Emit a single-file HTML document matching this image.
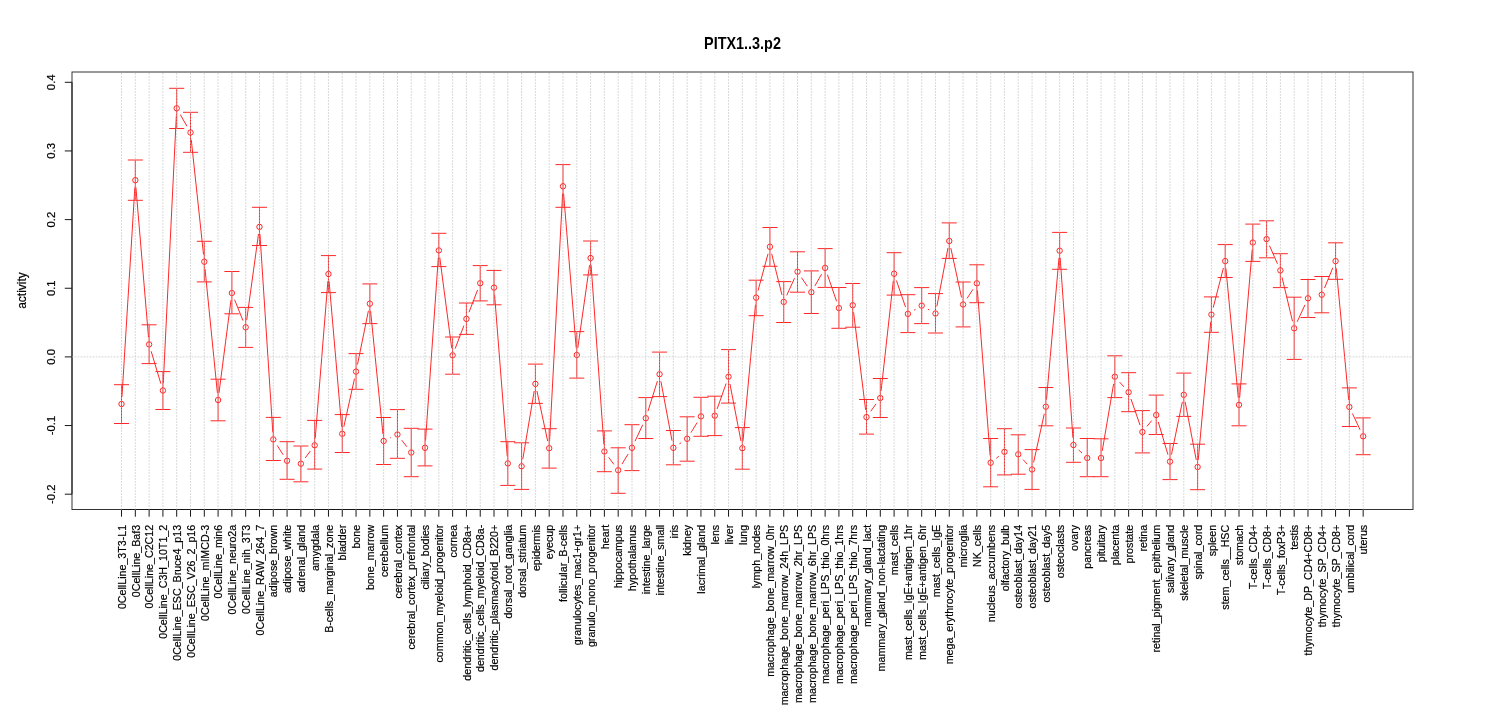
<!DOCTYPE html>
<html><head><meta charset="utf-8"><style>
html,body{margin:0;padding:0;background:#fff;width:1485px;height:720px;overflow:hidden}
svg{display:block;will-change:transform}
text{font-family:"Liberation Sans",sans-serif;fill:#000;stroke:#000;stroke-width:0.2px}
</style></head><body>
<svg width="1485" height="720" viewBox="0 0 1485 720">
<rect x="0" y="0" width="1485" height="720" fill="#fff"/>
<text transform="translate(742.5,48.9) scale(1,1.09)" text-anchor="middle" font-weight="bold" font-size="14.4" style="stroke-width:0">PITX1..3.p2</text>
<path d="M121.96 396.81L134.87 187.39M135.92 187.37L148.51 337.23M151.18 351.30L160.84 383.60M163.26 383.31L176.35 115.49M180.27 114.55L186.93 126.25M191.26 139.66L203.53 254.54M205.01 268.86L217.38 392.84M219.01 392.86L230.97 300.14M234.57 299.68L243.00 320.62M246.66 320.17L258.50 234.03M259.95 234.08L272.81 432.22M277.18 445.45L283.17 454.75M305.19 457.94L310.34 451.06M315.24 438.12L327.88 281.18M329.08 281.17L341.64 426.63M343.82 426.77L354.49 378.63M357.49 364.54L368.41 310.76M370.57 310.86L382.92 433.84M390.16 437.93L390.93 437.57M401.82 440.21L406.86 446.79M418.05 450.18L418.22 450.12M425.53 440.62L438.33 257.58M439.77 257.54L451.69 348.16M455.18 348.57L463.87 325.63M469.02 312.18L477.62 289.92M487.08 285.39L487.15 285.41M494.58 294.78L507.24 456.22M522.79 459.20L534.21 391.00M536.91 390.94L547.69 441.16M549.57 441.01L562.61 193.49M563.58 193.48L576.20 347.82M577.80 347.87L589.57 265.13M591.10 265.18L603.87 444.32M608.65 457.29L613.90 464.41M621.95 464.07L628.20 453.93M635.01 441.27L642.73 424.73M647.92 411.33L657.41 381.07M660.89 381.28L672.03 440.72M679.39 443.87L681.13 442.73M690.93 432.67L697.18 422.53M717.15 408.91L726.14 383.49M729.91 383.77L740.98 441.13M743.00 441.03L755.48 304.77M758.02 290.65L768.05 253.75M771.68 253.78L781.98 294.92M786.72 295.35L794.53 278.25M801.54 277.67L807.30 286.23M814.87 285.94L821.56 274.16M827.45 274.71L836.57 301.29M853.59 312.35L865.62 409.95M870.72 411.26L876.08 403.84M881.09 390.84L893.30 280.86M896.43 280.51L905.55 307.09M914.06 310.19L915.52 309.31M927.94 309.18L929.24 309.92M936.83 306.43L947.93 248.07M950.81 248.04L961.55 297.46M967.00 298.47L972.94 289.33M977.42 290.48L990.12 455.52M996.32 458.24L998.81 456.26M1023.10 459.63L1027.22 464.17M1033.60 462.47L1044.31 413.73M1046.49 399.53L1059.01 257.87M1060.16 257.88L1072.93 437.82M1078.68 449.94L1082.00 453.06M1102.24 450.90L1113.63 383.80M1119.62 382.08L1123.84 386.82M1130.99 399.00L1140.07 425.20M1146.96 426.41L1151.68 420.59M1158.26 421.90L1167.97 454.70M1171.47 454.55L1182.36 401.85M1185.16 401.87L1196.26 459.93M1198.26 459.83L1210.75 321.77M1213.20 307.63L1223.40 268.07M1225.89 268.27L1238.31 397.73M1239.61 397.73L1252.18 249.67M1269.49 245.69L1277.48 263.81M1282.05 277.40L1292.51 321.30M1297.19 321.76L1304.97 304.84M1324.51 288.04L1332.83 267.76M1336.25 268.27L1348.69 399.83M1352.43 413.51L1360.09 429.79" stroke="#ff2828" stroke-width="1" fill="none"/>
<path d="M121.52 423.50V384.70M114.02 384.70H129.02M114.02 423.50H129.02M135.32 200.30V160.00M127.82 160.00H142.82M127.82 200.30H142.82M149.11 363.60V324.80M141.61 324.80H156.61M141.61 363.60H156.61M162.91 409.50V371.60M155.41 371.60H170.41M155.41 409.50H170.41M176.70 128.50V88.30M169.20 88.30H184.20M169.20 128.50H184.20M190.50 152.30V112.30M183.00 112.30H198.00M183.00 152.30H198.00M204.30 281.90V241.30M196.80 241.30H211.80M196.80 281.90H211.80M218.09 420.80V379.20M210.59 379.20H225.59M210.59 420.80H225.59M231.89 313.80V271.50M224.39 271.50H239.39M224.39 313.80H239.39M245.68 347.40V307.40M238.18 307.40H253.18M238.18 347.40H253.18M259.48 245.50V207.30M251.98 207.30H266.98M251.98 245.50H266.98M273.28 460.50V417.40M265.78 417.40H280.78M265.78 460.50H280.78M287.07 479.30V441.70M279.57 441.70H294.57M279.57 479.30H294.57M300.87 481.80V446.00M293.37 446.00H308.37M293.37 481.80H308.37M314.66 469.10V420.40M307.16 420.40H322.16M307.16 469.10H322.16M328.46 292.60V255.60M320.96 255.60H335.96M320.96 292.60H335.96M342.26 452.50V414.60M334.76 414.60H349.76M334.76 452.50H349.76M356.05 389.30V353.60M348.55 353.60H363.55M348.55 389.30H363.55M369.85 323.60V283.90M362.35 283.90H377.35M362.35 323.60H377.35M383.64 464.50V417.50M376.14 417.50H391.14M376.14 464.50H391.14M397.44 458.30V409.60M389.94 409.60H404.94M389.94 458.30H404.94M411.24 476.70V428.30M403.74 428.30H418.74M403.74 476.70H418.74M425.03 465.90V429.10M417.53 429.10H432.53M417.53 465.90H432.53M438.83 266.60V233.30M431.33 233.30H446.33M431.33 266.60H446.33M452.62 374.20V337.00M445.12 337.00H460.12M445.12 374.20H460.12M466.42 334.40V303.00M458.92 303.00H473.92M458.92 334.40H473.92M480.22 300.90V265.60M472.72 265.60H487.72M472.72 300.90H487.72M494.01 304.80V270.40M486.51 270.40H501.51M486.51 304.80H501.51M507.81 485.40V441.70M500.31 441.70H515.31M500.31 485.40H515.31M521.60 489.40V442.80M514.10 442.80H529.10M514.10 489.40H529.10M535.40 403.40V364.10M527.90 364.10H542.90M527.90 403.40H542.90M549.20 468.10V428.70M541.70 428.70H556.70M541.70 468.10H556.70M562.99 207.30V164.60M555.49 164.60H570.49M555.49 207.30H570.49M576.79 378.10V331.60M569.29 331.60H584.29M569.29 378.10H584.29M590.58 274.90V241.00M583.08 241.00H598.08M583.08 274.90H598.08M604.38 471.70V430.90M596.88 430.90H611.88M596.88 471.70H611.88M618.18 493.30V447.80M610.68 447.80H625.68M610.68 493.30H625.68M631.97 470.60V424.70M624.47 424.70H639.47M624.47 470.60H639.47M645.77 438.50V397.60M638.27 397.60H653.27M638.27 438.50H653.27M659.56 396.60V352.10M652.06 352.10H667.06M652.06 396.60H667.06M673.36 464.80V430.50M665.86 430.50H680.86M665.86 464.80H680.86M687.16 461.20V416.80M679.66 416.80H694.66M679.66 461.20H694.66M700.95 436.30V397.30M693.45 397.30H708.45M693.45 436.30H708.45M714.75 435.60V396.20M707.25 396.20H722.25M707.25 435.60H722.25M728.54 403.10V349.60M721.04 349.60H736.04M721.04 403.10H736.04M742.34 469.20V427.60M734.84 427.60H749.84M734.84 469.20H749.84M756.14 315.70V280.20M748.64 280.20H763.64M748.64 315.70H763.64M769.93 266.30V227.50M762.43 227.50H777.43M762.43 266.30H777.43M783.73 322.50V281.60M776.23 281.60H791.23M776.23 322.50H791.23M797.52 292.20V251.80M790.02 251.80H805.02M790.02 292.20H805.02M811.32 313.50V270.90M803.82 270.90H818.82M803.82 313.50H818.82M825.12 287.40V248.60M817.62 248.60H832.62M817.62 287.40H832.62M838.91 328.30V287.50M831.41 287.50H846.41M831.41 328.30H846.41M852.71 327.20V283.50M845.21 283.50H860.21M845.21 327.20H860.21M866.50 434.10V399.50M859.00 399.50H874.00M859.00 434.10H874.00M880.30 417.50V378.50M872.80 378.50H887.80M872.80 417.50H887.80M894.10 295.10V252.70M886.60 252.70H901.60M886.60 295.10H901.60M907.89 332.60V294.70M900.39 294.70H915.39M900.39 332.60H915.39M921.69 323.60V287.60M914.19 287.60H929.19M914.19 323.60H929.19M935.48 333.00V293.60M927.98 293.60H942.98M927.98 333.00H942.98M949.28 258.40V222.90M941.78 222.90H956.78M941.78 258.40H956.78M963.08 326.90V282.00M955.58 282.00H970.58M955.58 326.90H970.58M976.87 302.70V264.80M969.37 264.80H984.37M969.37 302.70H984.37M990.67 486.80V438.50M983.17 438.50H998.17M983.17 486.80H998.17M1004.46 474.90V428.70M996.96 428.70H1011.96M996.96 474.90H1011.96M1018.26 474.20V434.80M1010.76 434.80H1025.76M1010.76 474.20H1025.76M1032.06 489.40V449.60M1024.56 449.60H1039.56M1024.56 489.40H1039.56M1045.85 425.80V387.50M1038.35 387.50H1053.35M1038.35 425.80H1053.35M1059.65 269.30V232.40M1052.15 232.40H1067.15M1052.15 269.30H1067.15M1073.44 462.30V428.00M1065.94 428.00H1080.94M1065.94 462.30H1080.94M1087.24 476.70V438.50M1079.74 438.50H1094.74M1079.74 476.70H1094.74M1101.04 476.70V438.80M1093.54 438.80H1108.54M1093.54 476.70H1108.54M1114.83 397.60V355.80M1107.33 355.80H1122.33M1107.33 397.60H1122.33M1128.63 411.70V372.70M1121.13 372.70H1136.13M1121.13 411.70H1136.13M1142.42 452.90V410.60M1134.92 410.60H1149.92M1134.92 452.90H1149.92M1156.22 434.50V395.10M1148.72 395.10H1163.72M1148.72 434.50H1163.72M1170.02 479.60V443.50M1162.52 443.50H1177.52M1162.52 479.60H1177.52M1183.81 416.40V373.10M1176.31 373.10H1191.31M1176.31 416.40H1191.31M1197.61 489.70V444.20M1190.11 444.20H1205.11M1190.11 489.70H1205.11M1211.40 332.30V296.90M1203.90 296.90H1218.90M1203.90 332.30H1218.90M1225.20 277.50V244.60M1217.70 244.60H1232.70M1217.70 277.50H1232.70M1239.00 425.80V383.90M1231.50 383.90H1246.50M1231.50 425.80H1246.50M1252.79 261.40V224.10M1245.29 224.10H1260.29M1245.29 261.40H1260.29M1266.59 257.80V220.80M1259.09 220.80H1274.09M1259.09 257.80H1274.09M1280.38 287.60V253.70M1272.88 253.70H1287.88M1272.88 287.60H1287.88M1294.18 359.40V297.20M1286.68 297.20H1301.68M1286.68 359.40H1301.68M1307.98 317.50V279.50M1300.48 279.50H1315.48M1300.48 317.50H1315.48M1321.77 312.80V276.50M1314.27 276.50H1329.27M1314.27 312.80H1329.27M1335.57 279.30V242.80M1328.07 242.80H1343.07M1328.07 279.30H1343.07M1349.36 426.50V387.90M1341.86 387.90H1356.86M1341.86 426.50H1356.86M1363.16 454.70V417.90M1355.66 417.90H1370.66M1355.66 454.70H1370.66" stroke="#ff2828" stroke-width="1" fill="none"/>
<g stroke="#ff2828" stroke-width="1" fill="none"><circle cx="121.52" cy="404.00" r="2.7"/><circle cx="135.32" cy="180.20" r="2.7"/><circle cx="149.11" cy="344.40" r="2.7"/><circle cx="162.91" cy="390.50" r="2.7"/><circle cx="176.70" cy="108.30" r="2.7"/><circle cx="190.50" cy="132.50" r="2.7"/><circle cx="204.30" cy="261.70" r="2.7"/><circle cx="218.09" cy="400.00" r="2.7"/><circle cx="231.89" cy="293.00" r="2.7"/><circle cx="245.68" cy="327.30" r="2.7"/><circle cx="259.48" cy="226.90" r="2.7"/><circle cx="273.28" cy="439.40" r="2.7"/><circle cx="287.07" cy="460.80" r="2.7"/><circle cx="300.87" cy="463.70" r="2.7"/><circle cx="314.66" cy="445.30" r="2.7"/><circle cx="328.46" cy="274.00" r="2.7"/><circle cx="342.26" cy="433.80" r="2.7"/><circle cx="356.05" cy="371.60" r="2.7"/><circle cx="369.85" cy="303.70" r="2.7"/><circle cx="383.64" cy="441.00" r="2.7"/><circle cx="397.44" cy="434.50" r="2.7"/><circle cx="411.24" cy="452.50" r="2.7"/><circle cx="425.03" cy="447.80" r="2.7"/><circle cx="438.83" cy="250.40" r="2.7"/><circle cx="452.62" cy="355.30" r="2.7"/><circle cx="466.42" cy="318.90" r="2.7"/><circle cx="480.22" cy="283.20" r="2.7"/><circle cx="494.01" cy="287.60" r="2.7"/><circle cx="507.81" cy="463.40" r="2.7"/><circle cx="521.60" cy="466.30" r="2.7"/><circle cx="535.40" cy="383.90" r="2.7"/><circle cx="549.20" cy="448.20" r="2.7"/><circle cx="562.99" cy="186.30" r="2.7"/><circle cx="576.79" cy="355.00" r="2.7"/><circle cx="590.58" cy="258.00" r="2.7"/><circle cx="604.38" cy="451.50" r="2.7"/><circle cx="618.18" cy="470.20" r="2.7"/><circle cx="631.97" cy="447.80" r="2.7"/><circle cx="645.77" cy="418.20" r="2.7"/><circle cx="659.56" cy="374.20" r="2.7"/><circle cx="673.36" cy="447.80" r="2.7"/><circle cx="687.16" cy="438.80" r="2.7"/><circle cx="700.95" cy="416.40" r="2.7"/><circle cx="714.75" cy="415.70" r="2.7"/><circle cx="728.54" cy="376.70" r="2.7"/><circle cx="742.34" cy="448.20" r="2.7"/><circle cx="756.14" cy="297.60" r="2.7"/><circle cx="769.93" cy="246.80" r="2.7"/><circle cx="783.73" cy="301.90" r="2.7"/><circle cx="797.52" cy="271.70" r="2.7"/><circle cx="811.32" cy="292.20" r="2.7"/><circle cx="825.12" cy="267.90" r="2.7"/><circle cx="838.91" cy="308.10" r="2.7"/><circle cx="852.71" cy="305.20" r="2.7"/><circle cx="866.50" cy="417.10" r="2.7"/><circle cx="880.30" cy="398.00" r="2.7"/><circle cx="894.10" cy="273.70" r="2.7"/><circle cx="907.89" cy="313.90" r="2.7"/><circle cx="921.69" cy="305.60" r="2.7"/><circle cx="935.48" cy="313.50" r="2.7"/><circle cx="949.28" cy="241.00" r="2.7"/><circle cx="963.08" cy="304.50" r="2.7"/><circle cx="976.87" cy="283.30" r="2.7"/><circle cx="990.67" cy="462.70" r="2.7"/><circle cx="1004.46" cy="451.80" r="2.7"/><circle cx="1018.26" cy="454.30" r="2.7"/><circle cx="1032.06" cy="469.50" r="2.7"/><circle cx="1045.85" cy="406.70" r="2.7"/><circle cx="1059.65" cy="250.70" r="2.7"/><circle cx="1073.44" cy="445.00" r="2.7"/><circle cx="1087.24" cy="458.00" r="2.7"/><circle cx="1101.04" cy="458.00" r="2.7"/><circle cx="1114.83" cy="376.70" r="2.7"/><circle cx="1128.63" cy="392.20" r="2.7"/><circle cx="1142.42" cy="432.00" r="2.7"/><circle cx="1156.22" cy="415.00" r="2.7"/><circle cx="1170.02" cy="461.60" r="2.7"/><circle cx="1183.81" cy="394.80" r="2.7"/><circle cx="1197.61" cy="467.00" r="2.7"/><circle cx="1211.40" cy="314.60" r="2.7"/><circle cx="1225.20" cy="261.10" r="2.7"/><circle cx="1239.00" cy="404.90" r="2.7"/><circle cx="1252.79" cy="242.50" r="2.7"/><circle cx="1266.59" cy="239.10" r="2.7"/><circle cx="1280.38" cy="270.40" r="2.7"/><circle cx="1294.18" cy="328.30" r="2.7"/><circle cx="1307.98" cy="298.30" r="2.7"/><circle cx="1321.77" cy="294.70" r="2.7"/><circle cx="1335.57" cy="261.10" r="2.7"/><circle cx="1349.36" cy="407.00" r="2.7"/><circle cx="1363.16" cy="436.30" r="2.7"/></g>
<rect x="72" y="72" width="1341" height="437.5" stroke="#333" stroke-width="1" fill="none"/>
<path d="M72 494.20V82.30M72 82.30H64.8M72 150.95H64.8M72 219.60H64.8M72 288.25H64.8M72 356.90H64.8M72 425.55H64.8M72 494.20H64.8M121.52 509.5H1363.16M121.52 509.5V516.70M135.32 509.5V516.70M149.11 509.5V516.70M162.91 509.5V516.70M176.70 509.5V516.70M190.50 509.5V516.70M204.30 509.5V516.70M218.09 509.5V516.70M231.89 509.5V516.70M245.68 509.5V516.70M259.48 509.5V516.70M273.28 509.5V516.70M287.07 509.5V516.70M300.87 509.5V516.70M314.66 509.5V516.70M328.46 509.5V516.70M342.26 509.5V516.70M356.05 509.5V516.70M369.85 509.5V516.70M383.64 509.5V516.70M397.44 509.5V516.70M411.24 509.5V516.70M425.03 509.5V516.70M438.83 509.5V516.70M452.62 509.5V516.70M466.42 509.5V516.70M480.22 509.5V516.70M494.01 509.5V516.70M507.81 509.5V516.70M521.60 509.5V516.70M535.40 509.5V516.70M549.20 509.5V516.70M562.99 509.5V516.70M576.79 509.5V516.70M590.58 509.5V516.70M604.38 509.5V516.70M618.18 509.5V516.70M631.97 509.5V516.70M645.77 509.5V516.70M659.56 509.5V516.70M673.36 509.5V516.70M687.16 509.5V516.70M700.95 509.5V516.70M714.75 509.5V516.70M728.54 509.5V516.70M742.34 509.5V516.70M756.14 509.5V516.70M769.93 509.5V516.70M783.73 509.5V516.70M797.52 509.5V516.70M811.32 509.5V516.70M825.12 509.5V516.70M838.91 509.5V516.70M852.71 509.5V516.70M866.50 509.5V516.70M880.30 509.5V516.70M894.10 509.5V516.70M907.89 509.5V516.70M921.69 509.5V516.70M935.48 509.5V516.70M949.28 509.5V516.70M963.08 509.5V516.70M976.87 509.5V516.70M990.67 509.5V516.70M1004.46 509.5V516.70M1018.26 509.5V516.70M1032.06 509.5V516.70M1045.85 509.5V516.70M1059.65 509.5V516.70M1073.44 509.5V516.70M1087.24 509.5V516.70M1101.04 509.5V516.70M1114.83 509.5V516.70M1128.63 509.5V516.70M1142.42 509.5V516.70M1156.22 509.5V516.70M1170.02 509.5V516.70M1183.81 509.5V516.70M1197.61 509.5V516.70M1211.40 509.5V516.70M1225.20 509.5V516.70M1239.00 509.5V516.70M1252.79 509.5V516.70M1266.59 509.5V516.70M1280.38 509.5V516.70M1294.18 509.5V516.70M1307.98 509.5V516.70M1321.77 509.5V516.70M1335.57 509.5V516.70M1349.36 509.5V516.70M1363.16 509.5V516.70" stroke="#181818" stroke-width="1" fill="none"/>
<g stroke="#b4b4b4" stroke-opacity="0.62" stroke-width="1" stroke-dasharray="1.6 1.4" fill="none"><path d="M121.52 509.8V72M135.32 509.8V72M149.11 509.8V72M162.91 509.8V72M176.70 509.8V72M190.50 509.8V72M204.30 509.8V72M218.09 509.8V72M231.89 509.8V72M245.68 509.8V72M259.48 509.8V72M273.28 509.8V72M287.07 509.8V72M300.87 509.8V72M314.66 509.8V72M328.46 509.8V72M342.26 509.8V72M356.05 509.8V72M369.85 509.8V72M383.64 509.8V72M397.44 509.8V72M411.24 509.8V72M425.03 509.8V72M438.83 509.8V72M452.62 509.8V72M466.42 509.8V72M480.22 509.8V72M494.01 509.8V72M507.81 509.8V72M521.60 509.8V72M535.40 509.8V72M549.20 509.8V72M562.99 509.8V72M576.79 509.8V72M590.58 509.8V72M604.38 509.8V72M618.18 509.8V72M631.97 509.8V72M645.77 509.8V72M659.56 509.8V72M673.36 509.8V72M687.16 509.8V72M700.95 509.8V72M714.75 509.8V72M728.54 509.8V72M742.34 509.8V72M756.14 509.8V72M769.93 509.8V72M783.73 509.8V72M797.52 509.8V72M811.32 509.8V72M825.12 509.8V72M838.91 509.8V72M852.71 509.8V72M866.50 509.8V72M880.30 509.8V72M894.10 509.8V72M907.89 509.8V72M921.69 509.8V72M935.48 509.8V72M949.28 509.8V72M963.08 509.8V72M976.87 509.8V72M990.67 509.8V72M1004.46 509.8V72M1018.26 509.8V72M1032.06 509.8V72M1045.85 509.8V72M1059.65 509.8V72M1073.44 509.8V72M1087.24 509.8V72M1101.04 509.8V72M1114.83 509.8V72M1128.63 509.8V72M1142.42 509.8V72M1156.22 509.8V72M1170.02 509.8V72M1183.81 509.8V72M1197.61 509.8V72M1211.40 509.8V72M1225.20 509.8V72M1239.00 509.8V72M1252.79 509.8V72M1266.59 509.8V72M1280.38 509.8V72M1294.18 509.8V72M1307.98 509.8V72M1321.77 509.8V72M1335.57 509.8V72M1349.36 509.8V72M1363.16 509.8V72"/><path d="M71.7 356.90H1413"/></g>
<text transform="translate(55,82.30) rotate(-90) scale(1.05,1)" text-anchor="middle" font-size="10.8">0.4</text>
<text transform="translate(55,150.95) rotate(-90) scale(1.05,1)" text-anchor="middle" font-size="10.8">0.3</text>
<text transform="translate(55,219.60) rotate(-90) scale(1.05,1)" text-anchor="middle" font-size="10.8">0.2</text>
<text transform="translate(55,288.25) rotate(-90) scale(1.05,1)" text-anchor="middle" font-size="10.8">0.1</text>
<text transform="translate(55,356.90) rotate(-90) scale(1.05,1)" text-anchor="middle" font-size="10.8">0.0</text>
<text transform="translate(55,425.55) rotate(-90) scale(1.05,1)" text-anchor="middle" font-size="10.8">-0.1</text>
<text transform="translate(55,494.20) rotate(-90) scale(1.05,1)" text-anchor="middle" font-size="10.8">-0.2</text>
<text transform="translate(26,290.5) rotate(-90)" text-anchor="middle" font-size="12">activity</text>
<text transform="translate(125.72,524.8) rotate(-90) scale(0.99,1)" text-anchor="end" font-size="10.8">0CellLine_3T3-L1</text>
<text transform="translate(139.52,524.8) rotate(-90) scale(0.99,1)" text-anchor="end" font-size="10.8">0CellLine_Baf3</text>
<text transform="translate(153.31,524.8) rotate(-90) scale(0.99,1)" text-anchor="end" font-size="10.8">0CellLine_C2C12</text>
<text transform="translate(167.11,524.8) rotate(-90) scale(0.99,1)" text-anchor="end" font-size="10.8">0CellLine_C3H_10T1_2</text>
<text transform="translate(180.90,524.8) rotate(-90) scale(0.99,1)" text-anchor="end" font-size="10.8">0CellLine_ESC_Bruce4_p13</text>
<text transform="translate(194.70,524.8) rotate(-90) scale(0.99,1)" text-anchor="end" font-size="10.8">0CellLine_ESC_V26_2_p16</text>
<text transform="translate(208.50,524.8) rotate(-90) scale(0.99,1)" text-anchor="end" font-size="10.8">0CellLine_mIMCD-3</text>
<text transform="translate(222.29,524.8) rotate(-90) scale(0.99,1)" text-anchor="end" font-size="10.8">0CellLine_min6</text>
<text transform="translate(236.09,524.8) rotate(-90) scale(0.99,1)" text-anchor="end" font-size="10.8">0CellLine_neuro2a</text>
<text transform="translate(249.88,524.8) rotate(-90) scale(0.99,1)" text-anchor="end" font-size="10.8">0CellLine_nih_3T3</text>
<text transform="translate(263.68,524.8) rotate(-90) scale(0.99,1)" text-anchor="end" font-size="10.8">0CellLine_RAW_264_7</text>
<text transform="translate(277.48,524.8) rotate(-90) scale(0.99,1)" text-anchor="end" font-size="10.8">adipose_brown</text>
<text transform="translate(291.27,524.8) rotate(-90) scale(0.99,1)" text-anchor="end" font-size="10.8">adipose_white</text>
<text transform="translate(305.07,524.8) rotate(-90) scale(0.99,1)" text-anchor="end" font-size="10.8">adrenal_gland</text>
<text transform="translate(318.86,524.8) rotate(-90) scale(0.99,1)" text-anchor="end" font-size="10.8">amygdala</text>
<text transform="translate(332.66,524.8) rotate(-90) scale(0.99,1)" text-anchor="end" font-size="10.8">B-cells_marginal_zone</text>
<text transform="translate(346.46,524.8) rotate(-90) scale(0.99,1)" text-anchor="end" font-size="10.8">bladder</text>
<text transform="translate(360.25,524.8) rotate(-90) scale(0.99,1)" text-anchor="end" font-size="10.8">bone</text>
<text transform="translate(374.05,524.8) rotate(-90) scale(0.99,1)" text-anchor="end" font-size="10.8">bone_marrow</text>
<text transform="translate(387.84,524.8) rotate(-90) scale(0.99,1)" text-anchor="end" font-size="10.8">cerebellum</text>
<text transform="translate(401.64,524.8) rotate(-90) scale(0.99,1)" text-anchor="end" font-size="10.8">cerebral_cortex</text>
<text transform="translate(415.44,524.8) rotate(-90) scale(0.99,1)" text-anchor="end" font-size="10.8">cerebral_cortex_prefrontal</text>
<text transform="translate(429.23,524.8) rotate(-90) scale(0.99,1)" text-anchor="end" font-size="10.8">ciliary_bodies</text>
<text transform="translate(443.03,524.8) rotate(-90) scale(0.99,1)" text-anchor="end" font-size="10.8">common_myeloid_progenitor</text>
<text transform="translate(456.82,524.8) rotate(-90) scale(0.99,1)" text-anchor="end" font-size="10.8">cornea</text>
<text transform="translate(470.62,524.8) rotate(-90) scale(0.99,1)" text-anchor="end" font-size="10.8">dendritic_cells_lymphoid_CD8a+</text>
<text transform="translate(484.42,524.8) rotate(-90) scale(0.99,1)" text-anchor="end" font-size="10.8">dendritic_cells_myeloid_CD8a-</text>
<text transform="translate(498.21,524.8) rotate(-90) scale(0.99,1)" text-anchor="end" font-size="10.8">dendritic_plasmacytoid_B220+</text>
<text transform="translate(512.01,524.8) rotate(-90) scale(0.99,1)" text-anchor="end" font-size="10.8">dorsal_root_ganglia</text>
<text transform="translate(525.80,524.8) rotate(-90) scale(0.99,1)" text-anchor="end" font-size="10.8">dorsal_striatum</text>
<text transform="translate(539.60,524.8) rotate(-90) scale(0.99,1)" text-anchor="end" font-size="10.8">epidermis</text>
<text transform="translate(553.40,524.8) rotate(-90) scale(0.99,1)" text-anchor="end" font-size="10.8">eyecup</text>
<text transform="translate(567.19,524.8) rotate(-90) scale(0.99,1)" text-anchor="end" font-size="10.8">follicular_B-cells</text>
<text transform="translate(580.99,524.8) rotate(-90) scale(0.99,1)" text-anchor="end" font-size="10.8">granulocytes_mac1+gr1+</text>
<text transform="translate(594.78,524.8) rotate(-90) scale(0.99,1)" text-anchor="end" font-size="10.8">granulo_mono_progenitor</text>
<text transform="translate(608.58,524.8) rotate(-90) scale(0.99,1)" text-anchor="end" font-size="10.8">heart</text>
<text transform="translate(622.38,524.8) rotate(-90) scale(0.99,1)" text-anchor="end" font-size="10.8">hippocampus</text>
<text transform="translate(636.17,524.8) rotate(-90) scale(0.99,1)" text-anchor="end" font-size="10.8">hypothalamus</text>
<text transform="translate(649.97,524.8) rotate(-90) scale(0.99,1)" text-anchor="end" font-size="10.8">intestine_large</text>
<text transform="translate(663.76,524.8) rotate(-90) scale(0.99,1)" text-anchor="end" font-size="10.8">intestine_small</text>
<text transform="translate(677.56,524.8) rotate(-90) scale(0.99,1)" text-anchor="end" font-size="10.8">iris</text>
<text transform="translate(691.36,524.8) rotate(-90) scale(0.99,1)" text-anchor="end" font-size="10.8">kidney</text>
<text transform="translate(705.15,524.8) rotate(-90) scale(0.99,1)" text-anchor="end" font-size="10.8">lacrimal_gland</text>
<text transform="translate(718.95,524.8) rotate(-90) scale(0.99,1)" text-anchor="end" font-size="10.8">lens</text>
<text transform="translate(732.74,524.8) rotate(-90) scale(0.99,1)" text-anchor="end" font-size="10.8">liver</text>
<text transform="translate(746.54,524.8) rotate(-90) scale(0.99,1)" text-anchor="end" font-size="10.8">lung</text>
<text transform="translate(760.34,524.8) rotate(-90) scale(0.99,1)" text-anchor="end" font-size="10.8">lymph_nodes</text>
<text transform="translate(774.13,524.8) rotate(-90) scale(0.99,1)" text-anchor="end" font-size="10.8">macrophage_bone_marrow_0hr</text>
<text transform="translate(787.93,524.8) rotate(-90) scale(0.99,1)" text-anchor="end" font-size="10.8">macrophage_bone_marrow_24h_LPS</text>
<text transform="translate(801.72,524.8) rotate(-90) scale(0.99,1)" text-anchor="end" font-size="10.8">macrophage_bone_marrow_2hr_LPS</text>
<text transform="translate(815.52,524.8) rotate(-90) scale(0.99,1)" text-anchor="end" font-size="10.8">macrophage_bone_marrow_6hr_LPS</text>
<text transform="translate(829.32,524.8) rotate(-90) scale(0.99,1)" text-anchor="end" font-size="10.8">macrophage_peri_LPS_thio_0hrs</text>
<text transform="translate(843.11,524.8) rotate(-90) scale(0.99,1)" text-anchor="end" font-size="10.8">macrophage_peri_LPS_thio_1hrs</text>
<text transform="translate(856.91,524.8) rotate(-90) scale(0.99,1)" text-anchor="end" font-size="10.8">macrophage_peri_LPS_thio_7hrs</text>
<text transform="translate(870.70,524.8) rotate(-90) scale(0.99,1)" text-anchor="end" font-size="10.8">mammary_gland_lact</text>
<text transform="translate(884.50,524.8) rotate(-90) scale(0.99,1)" text-anchor="end" font-size="10.8">mammary_gland_non-lactating</text>
<text transform="translate(898.30,524.8) rotate(-90) scale(0.99,1)" text-anchor="end" font-size="10.8">mast_cells</text>
<text transform="translate(912.09,524.8) rotate(-90) scale(0.99,1)" text-anchor="end" font-size="10.8">mast_cells_IgE+antigen_1hr</text>
<text transform="translate(925.89,524.8) rotate(-90) scale(0.99,1)" text-anchor="end" font-size="10.8">mast_cells_IgE+antigen_6hr</text>
<text transform="translate(939.68,524.8) rotate(-90) scale(0.99,1)" text-anchor="end" font-size="10.8">mast_cells_IgE</text>
<text transform="translate(953.48,524.8) rotate(-90) scale(0.99,1)" text-anchor="end" font-size="10.8">mega_erythrocyte_progenitor</text>
<text transform="translate(967.28,524.8) rotate(-90) scale(0.99,1)" text-anchor="end" font-size="10.8">microglia</text>
<text transform="translate(981.07,524.8) rotate(-90) scale(0.99,1)" text-anchor="end" font-size="10.8">NK_cells</text>
<text transform="translate(994.87,524.8) rotate(-90) scale(0.99,1)" text-anchor="end" font-size="10.8">nucleus_accumbens</text>
<text transform="translate(1008.66,524.8) rotate(-90) scale(0.99,1)" text-anchor="end" font-size="10.8">olfactory_bulb</text>
<text transform="translate(1022.46,524.8) rotate(-90) scale(0.99,1)" text-anchor="end" font-size="10.8">osteoblast_day14</text>
<text transform="translate(1036.26,524.8) rotate(-90) scale(0.99,1)" text-anchor="end" font-size="10.8">osteoblast_day21</text>
<text transform="translate(1050.05,524.8) rotate(-90) scale(0.99,1)" text-anchor="end" font-size="10.8">osteoblast_day5</text>
<text transform="translate(1063.85,524.8) rotate(-90) scale(0.99,1)" text-anchor="end" font-size="10.8">osteoclasts</text>
<text transform="translate(1077.64,524.8) rotate(-90) scale(0.99,1)" text-anchor="end" font-size="10.8">ovary</text>
<text transform="translate(1091.44,524.8) rotate(-90) scale(0.99,1)" text-anchor="end" font-size="10.8">pancreas</text>
<text transform="translate(1105.24,524.8) rotate(-90) scale(0.99,1)" text-anchor="end" font-size="10.8">pituitary</text>
<text transform="translate(1119.03,524.8) rotate(-90) scale(0.99,1)" text-anchor="end" font-size="10.8">placenta</text>
<text transform="translate(1132.83,524.8) rotate(-90) scale(0.99,1)" text-anchor="end" font-size="10.8">prostate</text>
<text transform="translate(1146.62,524.8) rotate(-90) scale(0.99,1)" text-anchor="end" font-size="10.8">retina</text>
<text transform="translate(1160.42,524.8) rotate(-90) scale(0.99,1)" text-anchor="end" font-size="10.8">retinal_pigment_epithelium</text>
<text transform="translate(1174.22,524.8) rotate(-90) scale(0.99,1)" text-anchor="end" font-size="10.8">salivary_gland</text>
<text transform="translate(1188.01,524.8) rotate(-90) scale(0.99,1)" text-anchor="end" font-size="10.8">skeletal_muscle</text>
<text transform="translate(1201.81,524.8) rotate(-90) scale(0.99,1)" text-anchor="end" font-size="10.8">spinal_cord</text>
<text transform="translate(1215.60,524.8) rotate(-90) scale(0.99,1)" text-anchor="end" font-size="10.8">spleen</text>
<text transform="translate(1229.40,524.8) rotate(-90) scale(0.99,1)" text-anchor="end" font-size="10.8">stem_cells__HSC</text>
<text transform="translate(1243.20,524.8) rotate(-90) scale(0.99,1)" text-anchor="end" font-size="10.8">stomach</text>
<text transform="translate(1256.99,524.8) rotate(-90) scale(0.99,1)" text-anchor="end" font-size="10.8">T-cells_CD4+</text>
<text transform="translate(1270.79,524.8) rotate(-90) scale(0.99,1)" text-anchor="end" font-size="10.8">T-cells_CD8+</text>
<text transform="translate(1284.58,524.8) rotate(-90) scale(0.99,1)" text-anchor="end" font-size="10.8">T-cells_foxP3+</text>
<text transform="translate(1298.38,524.8) rotate(-90) scale(0.99,1)" text-anchor="end" font-size="10.8">testis</text>
<text transform="translate(1312.18,524.8) rotate(-90) scale(0.99,1)" text-anchor="end" font-size="10.8">thymocyte_DP_CD4+CD8+</text>
<text transform="translate(1325.97,524.8) rotate(-90) scale(0.99,1)" text-anchor="end" font-size="10.8">thymocyte_SP_CD4+</text>
<text transform="translate(1339.77,524.8) rotate(-90) scale(0.99,1)" text-anchor="end" font-size="10.8">thymocyte_SP_CD8+</text>
<text transform="translate(1353.56,524.8) rotate(-90) scale(0.99,1)" text-anchor="end" font-size="10.8">umbilical_cord</text>
<text transform="translate(1367.36,524.8) rotate(-90) scale(0.99,1)" text-anchor="end" font-size="10.8">uterus</text>
</svg></body></html>
